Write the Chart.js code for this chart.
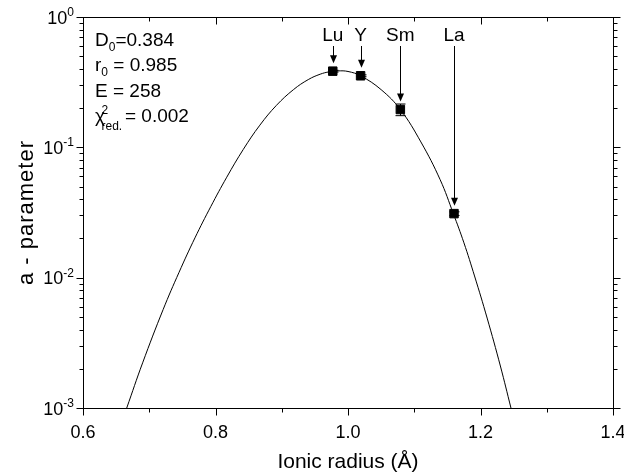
<!DOCTYPE html>
<html lang="en">
<head>
<meta charset="UTF-8">
<title>a - parameter vs ionic radius</title>
<script src="https://cdn.jsdelivr.net/npm/chart.js@4"></script>
<style>
  html, body { margin: 0; padding: 0; background: #fff; }
  #chart { display: block; }
</style>
</head>
<body>
<canvas id="chart" width="624" height="475"></canvas>
<script>
// measured a-parameters
const elements = ['Lu', 'Y', 'Sm', 'La'];
const radius = [0.977, 1.019, 1.079, 1.160];
const aParam = [0.384, 0.354, 0.195, 0.031];
const aErr = [0.006, 0.006, 0.02, 0.001];

// lattice strain fit
const fitX = [0.666, 0.690, 0.721, 0.745, 0.769, 0.793, 0.817, 0.842, 0.867, 0.892, 0.918, 0.940, 0.958, 0.972,
              0.985, 1.000, 1.019, 1.050, 1.079, 1.110, 1.139, 1.159, 1.175, 1.191, 1.210, 1.230, 1.246];
const fitY = [0.001, 0.00222, 0.00570, 0.0110, 0.0202, 0.0352, 0.0590, 0.0965, 0.148, 0.210, 0.278, 0.331, 0.364, 0.380,
              0.386, 0.382, 0.354, 0.277, 0.195, 0.110, 0.0566, 0.031, 0.0185, 0.0103, 0.0049, 0.0021, 0.001];

// axes
const xTicks = [0.6, 0.7, 0.8, 0.9, 1.0, 1.1, 1.2, 1.3, 1.4];
const xLabels = ['0.6', '', '0.8', '', '1.0', '', '1.2', '', '1.4'];
const yDecades = [0.001, 0.01, 0.1, 1];
const yExps = ['-3', '-2', '-1', '0'];

const FONT = "'Liberation Sans', Arial, sans-serif";

function font(px) { return px + 'px ' + FONT; }

// text with sub/superscripts, parts: [text, size, dy, x?]
function drawParts(ctx, x, y, parts) {
  ctx.textAlign = 'left';
  ctx.textBaseline = 'alphabetic';
  for (const p of parts) {
    ctx.font = font(p[1]);
    if (p[3] !== undefined) x = p[3];
    ctx.fillText(p[0], x, y + p[2]);
    x += ctx.measureText(p[0]).width;
  }
}

const decor = {
  id: 'decor',
  beforeDatasetsDraw(chart) {
    const ctx = chart.ctx;
    const xs = chart.scales.x, ys = chart.scales.y;
    ctx.save();
    ctx.strokeStyle = '#000';
    ctx.lineWidth = 1;
    // error bars
    radius.forEach((r, i) => {
      const px = Math.round(xs.getPixelForValue(r)) + 0.5;
      const y1 = ys.getPixelForValue(aParam[i] + aErr[i]);
      const y2 = ys.getPixelForValue(aParam[i] - aErr[i]);
      ctx.beginPath();
      ctx.moveTo(px, y1); ctx.lineTo(px, y2);
      ctx.moveTo(px - 5, y1); ctx.lineTo(px + 5, y1);
      ctx.moveTo(px - 5, y2); ctx.lineTo(px + 5, y2);
      ctx.stroke();
    });
    ctx.restore();
  },
  afterDraw(chart) {
    const ctx = chart.ctx;
    const a = chart.chartArea;
    const xs = chart.scales.x, ys = chart.scales.y;
    const L = Math.round(a.left) + 0.5, R = Math.round(a.right) + 0.5;
    const T = Math.round(a.top) + 0.5, B = Math.round(a.bottom) + 0.5;
    ctx.save();
    ctx.strokeStyle = '#000';
    ctx.fillStyle = '#000';
    ctx.lineWidth = 1;
    ctx.strokeRect(L, T, R - L, B - T);

    // x ticks: bottom outward, top inward
    ctx.beginPath();
    xTicks.forEach((v, i) => {
      const px = Math.round(xs.getPixelForValue(v)) + 0.5;
      const len = xLabels[i] ? 7 : 4;
      ctx.moveTo(px, B); ctx.lineTo(px, B + len);
      ctx.moveTo(px, T); ctx.lineTo(px, T + len);
    });
    // y ticks: left and right, outward
    yDecades.forEach((d, k) => {
      const py = Math.round(ys.getPixelForValue(d)) + 0.5;
      ctx.moveTo(L - 7, py); ctx.lineTo(L, py);
      ctx.moveTo(R, py); ctx.lineTo(R + 7, py);
      if (k < yDecades.length - 1) {
        for (let m = 2; m <= 9; m++) {
          const my = Math.round(ys.getPixelForValue(d * m)) + 0.5;
          ctx.moveTo(L - 4, my); ctx.lineTo(L, my);
          ctx.moveTo(R, my); ctx.lineTo(R + 4, my);
        }
      }
    });
    ctx.stroke();

    // x tick labels
    ctx.font = font(18);
    ctx.textAlign = 'center';
    ctx.textBaseline = 'middle';
    xTicks.forEach((v, i) => {
      if (xLabels[i]) ctx.fillText(xLabels[i], xs.getPixelForValue(v), 433);
    });

    // y tick labels 10^n
    yDecades.forEach((d, k) => {
      const py = ys.getPixelForValue(d);
      ctx.font = font(12);
      const wSup = ctx.measureText(yExps[k]).width;
      ctx.font = font(18);
      const wBase = ctx.measureText('10').width;
      const x0 = 74 - wSup - wBase;
      ctx.textAlign = 'left';
      ctx.textBaseline = 'alphabetic';
      ctx.fillText('10', x0, py + 6.5);
      ctx.font = font(12);
      ctx.fillText(yExps[k], x0 + wBase, py - 1);
    });

    // axis titles
    ctx.font = font(21);
    ctx.textAlign = 'center';
    ctx.textBaseline = 'middle';
    ctx.fillText('Ionic radius (Å)', (a.left + a.right) / 2, 462);
    ctx.save();
    ctx.font = font(22);
    ctx.letterSpacing = '1px';
    ctx.translate(27, (a.top + a.bottom) / 2);
    ctx.rotate(-Math.PI / 2);
    ctx.fillText('a - parameter', 0, 0);
    ctx.restore();

    // fit parameters
    drawParts(ctx, 95, 45.5, [['D', 19, 0], ['0', 12, 5], ['=0.384', 19, 0]]);
    drawParts(ctx, 95, 71, [['r', 19, 0], ['0', 12, 5], [' = 0.985', 19, 0]]);
    drawParts(ctx, 95, 96.5, [['E = 258', 19, 0]]);
    drawParts(ctx, 95, 122, [['\u03C7', 19, 0], ['2', 12, -8, 101.5]]);
    drawParts(ctx, 101.5, 130, [['red.', 12, 0]]);
    drawParts(ctx, 125, 122, [['= 0.002', 19, 0]]);

    // element labels with arrows
    radius.forEach((r, i) => {
      const px = xs.getPixelForValue(r);
      const py = ys.getPixelForValue(aParam[i]);
      ctx.font = font(19);
      ctx.textAlign = 'center';
      ctx.textBaseline = 'alphabetic';
      ctx.fillText(elements[i], px, 41);
      const tip = py - 8;
      const lx = Math.round(px) + 0.5;
      ctx.beginPath();
      ctx.moveTo(lx, 46); ctx.lineTo(lx, tip - 6);
      ctx.stroke();
      ctx.beginPath();
      ctx.moveTo(lx - 3.5, tip - 8);
      ctx.lineTo(lx + 3.5, tip - 8);
      ctx.lineTo(lx, tip);
      ctx.closePath();
      ctx.fill();
    });
    ctx.restore();
  }
};

new Chart(document.getElementById('chart'), {
  type: 'scatter',
  data: {
    datasets: [
      {
        label: 'a - parameter',
        data: radius.map((r, i) => ({ x: r, y: aParam[i] })),
        pointStyle: 'rect',
        pointRadius: 6,
        backgroundColor: '#000',
        borderColor: '#000',
        borderWidth: 1
      },
      {
        label: 'fit',
        data: fitX.map((x, i) => ({ x: x, y: fitY[i] })),
        showLine: true,
        pointRadius: 0,
        borderColor: '#000',
        borderWidth: 1,
        tension: 0.4
      }
    ]
  },
  options: {
    responsive: false,
    animation: false,
    devicePixelRatio: 1,
    layout: { padding: { left: 83, right: 11, top: 17, bottom: 67 } },
    plugins: { legend: { display: false }, tooltip: { enabled: false } },
    scales: {
      x: { type: 'linear', min: 0.6, max: 1.4, display: false },
      y: { type: 'logarithmic', min: 0.001, max: 1, display: false }
    }
  },
  plugins: [decor]
});
</script>
</body>
</html>
